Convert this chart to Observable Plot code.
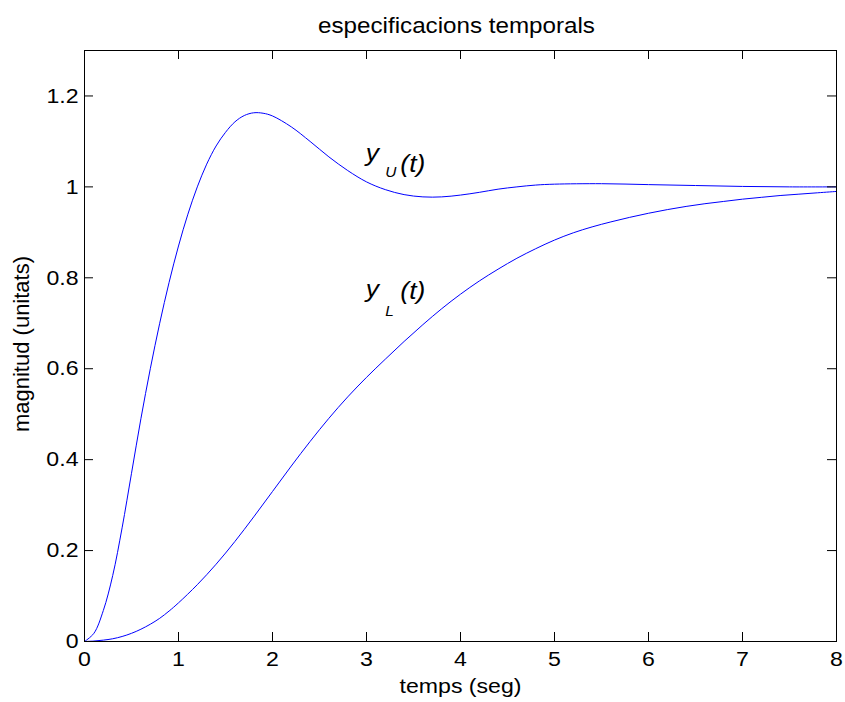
<!DOCTYPE html>
<html><head><meta charset="utf-8">
<script src="https://cdn.jsdelivr.net/npm/d3@7"></script>
<script src="https://cdn.jsdelivr.net/npm/@observablehq/plot@0.6"></script>
<style>body{margin:0;background:#fff;} #chart{width:845px;height:702px;}</style>
</head><body><div id="chart"></div>
<script>
// ---- data ----
const upperT = [0,0.1,0.2,0.3,0.4,0.5,0.6,0.7,0.8,0.9,1.0,1.1,1.2,1.3,1.4,1.5,1.6,1.7,1.8,1.9,2.0,2.2,2.4,2.6,2.8,3.0,3.2,3.4,3.6,3.8,4.0,4.2,4.4,4.6,4.8,5.0,5.5,6.0,6.5,7.0,7.5,8.0];
const upperY = [0,0.018,0.068,0.145,0.25,0.37,0.49,0.60,0.70,0.79,0.87,0.94,1.0,1.05,1.09,1.12,1.143,1.157,1.163,1.162,1.156,1.132,1.100,1.066,1.036,1.011,0.994,0.983,0.978,0.978,0.982,0.988,0.995,1.0,1.004,1.006,1.007,1.005,1.003,1.001,1.0,1.0];
const lowerT = [0,0.1,0.2,0.3,0.4,0.5,0.6,0.7,0.8,0.9,1.0,1.2,1.4,1.6,1.8,2.0,2.2,2.4,2.6,2.8,3.0,3.2,3.4,3.6,3.8,4.0,4.2,4.4,4.6,4.8,5.0,5.2,5.4,5.6,5.8,6.0,6.2,6.4,6.6,6.8,7.0,7.2,7.4,7.6,7.8,8.0];
const lowerY = [0,0.001,0.003,0.006,0.011,0.018,0.027,0.038,0.051,0.067,0.085,0.125,0.170,0.220,0.274,0.330,0.386,0.440,0.491,0.538,0.581,0.621,0.660,0.697,0.732,0.764,0.793,0.819,0.843,0.864,0.883,0.899,0.912,0.923,0.933,0.942,0.950,0.957,0.963,0.968,0.973,0.977,0.981,0.984,0.987,0.990];
const xTicks = [0,1,2,3,4,5,6,7,8];
const yTicks = [0,0.2,0.4,0.6,0.8,1,1.2];
const titleText = "especificacions temporals";
const xLabel = "temps (seg)";
const yLabel = "magnitud (unitats)";

const upper = upperT.map((t,i) => ({t, v: upperY[i]}));
const lower = lowerT.map((t,i) => ({t, v: lowerY[i]}));

// curve annotations (text, in data coordinates)
const bigParts = [
  {s:"y", x:2.99, y:1.058}, {s:"(t)", x:3.36, y:1.032},
  {s:"y", x:2.99, y:0.757}, {s:"(t)", x:3.36, y:0.753}
];
const smallParts = [
  {s:"U", x:3.2, y:1.021},
  {s:"L", x:3.2, y:0.717}
];

const W=845, H=702, mL=84, mR=9, mT=50, mB=61;
const iW=W-mL-mR, iH=H-mT-mB, tick=9;

const plot = Plot.plot({
  width: W, height: H,
  marginLeft: mL, marginRight: mR, marginTop: mT, marginBottom: mB,
  style: {fontFamily: "'Liberation Sans', Arial, Helvetica, sans-serif", fontSize: "21px", color: "black", background: "white", overflow: "visible"},
  x: {domain: [0, 8]},
  y: {domain: [0, 1.3]},
  marks: [
    Plot.line(upper, {x: "t", y: "v", stroke: "#0000ff", strokeWidth: 1, curve: "catmull-rom"}),
    Plot.line(lower, {x: "t", y: "v", stroke: "#0000ff", strokeWidth: 1, curve: "catmull-rom"}),
    Plot.frame({stroke: "black", strokeWidth: 1}),
    Plot.tickX(xTicks, {x: d => d, insetTop: iH - tick, stroke: "black"}),
    Plot.tickX(xTicks, {x: d => d, insetBottom: iH - tick, stroke: "black"}),
    Plot.tickY(yTicks, {y: d => d, insetRight: iW - tick, stroke: "black"}),
    Plot.tickY(yTicks, {y: d => d, insetLeft: iW - tick, stroke: "black"}),
    Plot.axisX({ticks: xTicks, tickSize: 0, tickPadding: 10, fontSize: 21, label: null, tickFormat: d => String(d)}),
    Plot.axisY({ticks: yTicks, tickSize: 0, tickPadding: 6, fontSize: 21, label: null, tickFormat: d => String(d)}),
    Plot.text([titleText], {text: d => d, frameAnchor: "top", textAnchor: "middle", dx: -4, dy: -18, lineAnchor: "bottom", fontSize: 22}),
    Plot.text([xLabel], {text: d => d, frameAnchor: "bottom", textAnchor: "middle", dy: 51, lineAnchor: "bottom", fontSize: 21}),
    Plot.text([yLabel], {text: d => d, frameAnchor: "left", textAnchor: "middle", dx: -56, dy: -2, rotate: -90, lineAnchor: "bottom", fontSize: 22}),
    Plot.text(bigParts, {x: "x", y: "y", text: "s", textAnchor: "start", lineAnchor: "bottom", fontSize: 24, fontStyle: "italic"}),
    Plot.text(smallParts, {x: "x", y: "y", text: "s", textAnchor: "start", lineAnchor: "bottom", fontSize: 14, fontStyle: "italic"})
  ]
});

document.getElementById("chart").append(plot);

// slight horizontal widening of horizontal texts, as in the reference rendering
const sx = 1.1;
plot.querySelectorAll("text").forEach(t => {
  const tr = t.getAttribute("transform") || "";
  if (tr.includes("rotate")) return;
  const b = t.getBBox();
  const anchor = getComputedStyle(t).textAnchor;
  const ax = anchor === "middle" ? b.x + b.width / 2 : anchor === "end" ? b.x + b.width : b.x;
  t.setAttribute("transform", `${tr} translate(${ax},0) scale(${sx},1) translate(${-ax},0)`);
});
</script>
</body></html>
